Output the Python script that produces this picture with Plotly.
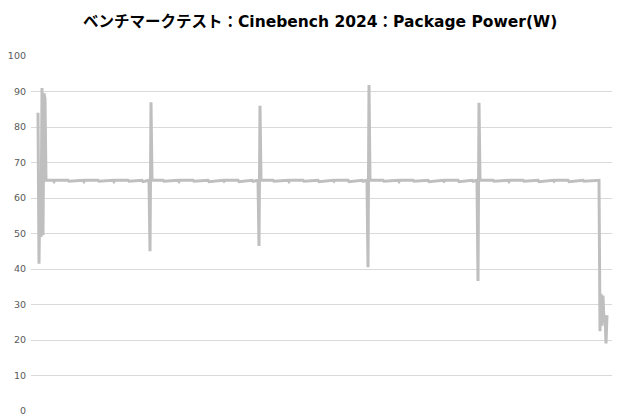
import plotly.graph_objects as go

# sample index (approx. seconds) and package power readings
t_sec = [0, 1, 2, 3, 4, 5, 6, 7, 8,
         15, 16, 17, 30, 31, 45, 46, 47, 60, 61, 75, 76, 77, 90, 91, 104, 105, 111,
         112, 113, 114,
         125, 126, 140, 141, 142, 155, 156, 170, 171, 185, 186, 187, 200, 201, 214, 215, 220,
         221, 222, 223,
         235, 236, 250, 251, 252, 265, 266, 280, 281, 295, 296, 297, 310, 311, 324, 325, 329,
         330, 331, 332,
         345, 346, 360, 361, 362, 375, 376, 390, 391, 405, 406, 407, 420, 421, 434, 435, 439,
         440, 441, 442,
         455, 456, 470, 471, 472, 485, 486, 500, 501, 515, 516, 517, 530, 531, 545, 546, 561,
         562, 563, 564, 565, 566, 567, 568, 569]
power_w = [84, 41.5, 65.5, 49, 91, 49.5, 89.5, 88, 65,
           65, 64.6, 65, 65, 64.7, 65, 64.6, 65, 65, 64.7, 65, 64.6, 65, 65, 64.7, 65, 64.6, 65,
           45, 87, 65,
           65, 64.7, 65, 64.6, 65, 65, 64.7, 65, 64.6, 65, 64.7, 65, 65, 64.6, 65, 64.7, 65,
           46.5, 86, 65,
           65, 64.7, 65, 64.6, 65, 65, 64.7, 65, 64.6, 65, 64.7, 65, 65, 64.6, 65, 64.7, 65,
           40.5, 91.8, 65,
           65, 64.7, 65, 64.6, 65, 65, 64.7, 65, 64.6, 65, 64.7, 65, 65, 64.6, 65, 64.7, 65,
           36.6, 86.8, 65,
           65, 64.7, 65, 64.6, 65, 65, 64.7, 65, 64.6, 65, 64.7, 65, 65, 64.6, 65, 64.7, 65,
           22.5, 33, 24, 32.5, 25, 27, 19, 27]

y_ticks = [0, 10, 20, 30, 40, 50, 60, 70, 80, 90, 100]

fig = go.Figure()
fig.add_trace(go.Scatter(x=t_sec, y=power_w, mode="lines",
                         line=dict(color="#BFBFBF", width=3), hoverinfo="skip"))

# page body has an 8px margin, so the figure is a bit smaller than the window
fig.update_layout(
    width=612, height=412,
    margin=dict(l=23, r=7, t=48, b=9, autoexpand=False),
    paper_bgcolor="white", plot_bgcolor="white",
    showlegend=False,
    title=dict(text="<b>ベンチマークテスト：Cinebench 2024：Package Power(W)</b>",
               x=0.51, xanchor="center", y=0.966, yanchor="middle",
               font=dict(family="DejaVu Sans, Noto Sans CJK JP", size=15.5, color="#000000")),
    font=dict(family="DejaVu Sans, Noto Sans CJK JP", size=9.5, color="#595959"),
)
fig.update_xaxes(range=[-7, 575], showgrid=False, zeroline=False,
                 showticklabels=False, showline=False, ticks="", automargin=False)
fig.update_yaxes(range=[0, 100], tickvals=y_ticks, showgrid=True,
                 gridcolor="#D9D9D9", gridwidth=1, zeroline=False, automargin=False,
                 showline=False, ticks="", ticklabelstandoff=4)

fig.write_html("out.html")
